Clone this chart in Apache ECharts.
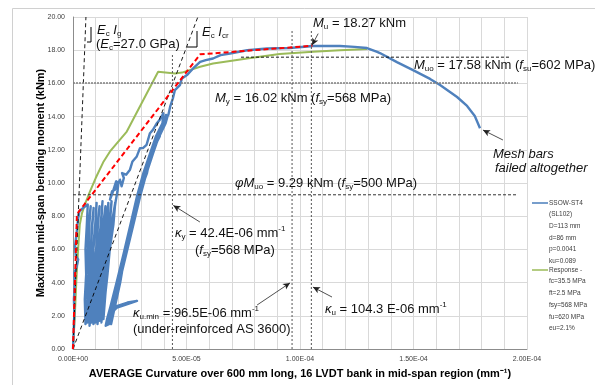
<!DOCTYPE html>
<html><head><meta charset="utf-8">
<script src="https://cdn.jsdelivr.net/npm/echarts@6/dist/echarts.min.js"></script>
<style>html,body{margin:0;padding:0;background:#fff}#c{width:595px;height:385px}</style>
</head><body><div id="c"></div>
<script>
// ---- data (curvature in 1e-6 mm^-1, moment in kNm) ----
const xTickLabels = ['0.00E+00', '5.00E-05', '1.00E-04', '1.50E-04', '2.00E-04'];
const yTickLabels = ['0.00','2.00','4.00','6.00','8.00','10.00','12.00','14.00','16.00','18.00','20.00'];

const blueInitial = [[0,0],[0.3,1.0],[0.6,2.2],[0.4,3.0],[0.9,4.0],[0.6,4.6],[1.5,4.9],[2.3,5.4],[1.2,5.6],[0.9,6.2],[1.6,7.0],[2.2,7.8],[2.8,8.3],[4.5,8.5],[6.5,8.7]];
const blueBand1 = [
  [6.1,7.5],[5.5,6.0],[5.8,4.5],[5.2,3.0],[5.5,1.5],[6.3,3.0],[6.0,4.5],[6.6,6.0],[6.9,7.5],[7.8,8.6],
  [7.2,7.5],[6.8,6.0],[7.1,4.5],[6.3,3.0],[6.4,1.6],[7.3,3.0],[7.4,4.5],[7.8,6.0],[8.4,7.5],[9.1,8.5],
  [8.5,7.4],[7.8,6.0],[8.0,4.5],[7.2,3.0],[7.3,1.4],[8.1,3.0],[8.5,4.5],[8.8,6.0],[9.8,7.5],[10.4,8.8],
  [9.9,7.5],[9.0,6.0],[9.2,4.5],[8.2,3.0],[8.2,1.6],[9.2,3.0],[9.4,4.5],[10.2,6.0],[10.8,7.5],[11.7,8.6],
  [11.0,7.5],[10.4,6.0],[10.0,4.5],[9.4,3.0],[9.0,1.5],[9.9,3.0],[10.6,4.5],[11.2,6.0],[12.2,7.5],[13.0,8.9],
  [12.4,7.5],[11.4,6.0],[11.2,4.5],[10.2,3.0],[9.9,1.6],[10.9,3.0],[11.4,4.5],[12.4,6.0],[13.3,7.5],[14.3,8.6],
  [13.8,7.5],[12.6,6.0],[12.3,4.5],[11.1,3.0],[10.8,1.5],[11.8,3.0],[12.4,4.5],[13.6,6.0],[14.4,7.5],[15.6,8.8],
  [15.0,7.5],[13.8,6.0],[13.2,4.5],[12.2,3.0],[11.6,1.7],[12.7,3.0],[13.6,4.5],[14.6,6.0],[15.8,7.5],[17.0,8.9],
  [16.2,7.5],[15.0,6.0],[14.2,4.5],[13.0,3.0],[12.5,1.6],[13.6,3.0],[14.4,4.5],[15.8,6.0],[17.0,7.5],[18.6,8.8],
  [17.8,7.5],[16.2,6.0],[15.2,4.5],[14.0,3.0],[13.4,1.8],[14.2,3.2],[15.2,4.8],[16.4,6.4],[17.6,7.8],[18.8,8.9],[19.6,9.5],[20.0,10.0],[19.0,10.1],[17.4,9.4],[16.3,9.0]
];
const blueRise = [[17.2,9.5],[18.5,9.6],[19.6,9.9],[20.7,10.2],[21.4,9.8],[22.4,10.3],[21.6,10.6],[22.2,10.6],[23.4,10.5],[25.1,10.8],[26.2,11.3],[28.1,11.6],[29.5,12.1],[30.8,12.1],[32.4,12.3],[33.9,13.0],[35.2,13.2],[36.9,13.6],[38.2,13.8],[39.8,14.2]];
const blueBand2 = [
  [39.4,13.6],[36.5,12.8],[34.0,11.8],[31.0,10.6],[28.2,9.2],[25.5,7.6],[22.4,5.8],[19.2,4.0],[16.6,2.6],[15.0,1.8],[14.4,1.4],
  [15.8,1.5],[17.9,2.6],[20.4,4.0],[23.6,5.8],[26.8,7.6],[29.6,9.2],[32.4,10.6],[35.3,11.8],[37.8,12.8],[39.7,13.6],[41.0,14.1],
  [40.2,13.7],[37.4,12.8],[34.2,11.8],[31.9,10.6],[28.6,9.2],[26.4,7.6],[22.6,5.8],[20.2,4.0],[16.8,2.6],[15.6,1.6],[17.2,2.2],
  [19.4,2.5],[24.0,2.7],[28.2,2.9],[24.0,2.8],[19.6,2.6],
  [18.6,2.6],[20.0,4.0],[23.4,5.8],[25.8,7.6],[29.4,9.2],[31.4,10.6],[34.8,11.8],[37.0,12.8],[40.2,13.7],[41.6,14.0],
  [40.8,13.6],[38.0,12.8],[35.0,11.8],[32.2,10.6],[29.2,9.2],[26.0,7.6],[23.2,5.8],[19.8,4.0],[17.6,2.6],[16.0,1.7],[16.8,1.5],
  [18.2,2.4],[20.8,4.0],[23.0,5.8],[26.6,7.6],[28.8,9.2],[32.6,10.6],[34.4,11.8],[38.2,12.8],[39.6,13.6],[42.0,14.1]
];
const blueEnvelope = [[42.8,14.6],[44.0,15.1],[44.9,15.6],[47.1,15.9],[48.0,16.3],[50.2,16.5],[52.9,16.9],[56.0,17.3],[58.5,17.4],[61.7,17.5],[65.0,17.7],[69.2,17.8],[76.7,18.0],[85.5,18.1],[95.6,18.13],[105.7,18.25],[117.6,18.25],[124.0,18.2],[129.5,18.13],[134.0,17.9],[135.2,17.83],[142.7,17.28],[149.8,16.8],[157.3,16.27],[161.7,15.9],[169.2,15.18],[173.6,14.64],[177.0,14.04],[179.3,13.3]];
const greenCurve = [[0,0],[0.8,2.0],[1.5,4.2],[2.3,6.1],[3.0,7.5],[4.0,8.2],[5.5,8.8],[7.5,9.5],[10.0,10.3],[13.5,11.3],[16.3,11.9],[23.7,13.1],[37.5,16.7],[45.0,16.6],[48.0,16.65],[56.0,17.0],[61.7,17.2],[76.7,17.5],[91.0,17.77],[105.7,17.9],[117.6,18.0],[129.5,18.07]];
const redCurve = [[0,0],[1.7,8.0],[2.4,8.25],[56.0,17.75],[105.5,18.27]];

const refEcIg = [[0,0],[5.7,20]];
const refEcIcr = [[0,0],[55,20]];
const refMy = [[0,16.02],[196,16.02]];
const refMuo = [[74,17.58],[192.5,17.58]];
const refPhiMuo = [[0,9.29],[196,9.29]];
const refKy = [[43.8,0],[43.8,17.8]];
const refKumin = [[96.5,0],[96.5,19.2]];
const refKu = [[105,0],[105,19.2]];

const arrowMu = [[108,19.0],[105.3,18.3]];
const arrowKy = [[55.9,7.65],[44.2,8.65]];
const arrowKumin = [[81.1,2.65],[95.6,3.98]];
const arrowKu = [[114.1,3.13],[105.7,3.73]];
const arrowMesh = [[189.4,12.59],[180.6,13.19]];

const legendBlue = ['SSOW-ST4','(SL102)','D=113 mm','d=86 mm','p=0.0041','ku=0.089'];
const legendGreen = ['Response -','fc=35.5 MPa','ft=2.5 MPa','fsy=568 MPa','fu=620 MPa','eu=2.1%'];

const blueCurve = blueInitial.concat(blueBand1, blueRise, blueBand2, blueEnvelope);

// ---- chart ----
const F = 'Liberation Sans';
const chart = echarts.init(document.getElementById('c'), null, {renderer:'canvas'});
const rich = {
  i: {fontStyle:'italic', fontSize:13, fontFamily:F, lineHeight:16, fill:'#111'},
  s: {fontSize:8, fontFamily:F, lineHeight:7, verticalAlign:'bottom', fill:'#111'},
  p: {fontSize:8, fontFamily:F, lineHeight:7, verticalAlign:'top', fill:'#111'}
};
function txt(x, y, text) {
  return {type:'text', x:x, y:y, silent:true, z:50,
    style:{text:text, rich:rich, fontSize:13, fontFamily:F, lineHeight:16, fill:'#111', verticalAlign:'middle', align:'left'}};
}
function ref(data, color, width, type) {
  return {type:'line', data:data, symbol:'none', silent:true, z:4,
    lineStyle:{color:color, width:width, type:type}};
}
function arrow(pts) {
  return [{coord:pts[0]},{coord:pts[1]}];
}

const graphics = [
  {type:'rect', shape:{x:12.5,y:8.5,width:640,height:420}, style:{fill:'none', stroke:'#d0d0d0', lineWidth:1}, silent:true},
  {type:'polyline', shape:{points:[[91,27],[91,42],[87,42]]}, style:{stroke:'#000', lineWidth:1, fill:'none'}, z:50, silent:true},
  {type:'polyline', shape:{points:[[197,31],[197,47],[187,47]]}, style:{stroke:'#000', lineWidth:1, fill:'none'}, z:50, silent:true},
  txt(97, 30, '{i|E}{s|c} {i|I}{s|g}'),
  txt(96, 44, '({i|E}{s|c}=27.0 GPa)'),
  txt(202, 32, '{i|E}{s|c} {i|I}{s|cr}'),
  txt(313, 23, '{i|M}{s|u} = 18.27 kNm'),
  txt(414, 65, '{i|M}{s|uo} = 17.58 kNm ({i|f}{s|su}=602 MPa)'),
  txt(215, 98, '{i|M}{s|y} = 16.02 kNm ({i|f}{s|sy}=568 MPa)'),
  txt(235, 183, '{i|φM}{s|uo} = 9.29 kNm ({i|f}{s|sy}=500 MPa)'),
  txt(175, 233, '{i|κ}{s|y} = 42.4E-06 mm{p|-1}'),
  txt(195, 250, '({i|f}{s|sy}=568 MPa)'),
  txt(133, 313, '{i|κ}{s|u.min} = 96.5E-06 mm{p|-1}'),
  txt(133, 329, '(under-reinforced AS 3600)'),
  txt(325, 309, '{i|κ}{s|u} = 104.3 E-06 mm{p|-1}'),
  txt(493, 154, '{i|Mesh bars}'),
  txt(495, 168, '{i|failed altogether}'),
  {type:'line', shape:{x1:532,y1:203,x2:548,y2:203}, style:{stroke:'#4a7ebb', lineWidth:1.5}, silent:true},
  {type:'line', shape:{x1:532,y1:270,x2:548,y2:270}, style:{stroke:'#9bbb59', lineWidth:1.5}, silent:true}
];
legendBlue.forEach((t, k) => graphics.push({type:'text', x:549, y:203 + k*11.6, silent:true,
  style:{text:t, fontSize:6.5, fontFamily:F, fill:'#404040', verticalAlign:'middle'}}));
legendGreen.forEach((t, k) => graphics.push({type:'text', x:549, y:270 + k*11.7, silent:true,
  style:{text:t, fontSize:6.5, fontFamily:F, fill:'#404040', verticalAlign:'middle'}}));

chart.setOption({
  animation:false,
  backgroundColor:'#fff',
  grid:{left:73, right:68, top:17, bottom:36, containLabel:false},
  xAxis:{type:'value', min:0, max:200, interval:50,
    axisLine:{show:true, onZero:false, lineStyle:{color:'#8c8c8c', width:1}},
    axisTick:{show:false},
    axisLabel:{fontSize:7, fontFamily:F, color:'#404040', margin:7, formatter:(v)=>xTickLabels[Math.round(v/50)]},
    splitLine:{show:true, lineStyle:{color:'#d9d9d9', width:1}},
    minorTick:{show:false, splitNumber:5},
    minorSplitLine:{show:true, lineStyle:{color:'#d9d9d9', width:1}},
    name:'AVERAGE Curvature over 600 mm long, 16 LVDT bank in mid-span region (mm⁻¹)',
    nameLocation:'middle', nameGap:19, nameMoveOverlap:false,
    nameTextStyle:{fontWeight:'bold', fontSize:11, fontFamily:F, color:'#000'}},
  yAxis:{type:'value', min:0, max:20, interval:2,
    axisLine:{show:true, lineStyle:{color:'#8c8c8c', width:1}},
    axisTick:{show:false},
    axisLabel:{fontSize:7, fontFamily:F, color:'#404040', margin:8, formatter:(v)=>yTickLabels[Math.round(v/2)]},
    splitLine:{show:true, lineStyle:{color:'#d9d9d9', width:1}},
    name:'Maximum mid-span bending moment (kNm)',
    nameLocation:'middle', nameGap:27, nameRotate:90, nameMoveOverlap:false,
    nameTextStyle:{fontWeight:'bold', fontSize:11, fontFamily:F, color:'#000'}},
  series:[
    {name:'Response', type:'line', data:greenCurve, symbol:'none', z:2, lineStyle:{color:'#9bbb59', width:2}},
    {name:'SSOW-ST4', type:'line', data:blueCurve, symbol:'none', z:3, lineStyle:{color:'#4f81bd', width:2.4, join:'round'}},
    {name:'Model', type:'line', data:redCurve, symbol:'none', z:5, lineStyle:{color:'#ff0000', width:2, type:[5,3]}},
    ref(refEcIg, '#000', 0.9, [4,3]),
    ref(refEcIcr, '#000', 0.9, [4,3]),
    ref(refMy, '#808080', 1.6, [2,1]),
    ref(refMuo, '#000', 0.9, [3,2]),
    ref(refPhiMuo, '#333', 1, [3,2]),
    ref(refKy, '#555', 1, [2,2]),
    ref(refKumin, '#555', 1, [2,2]),
    ref(refKu, '#555', 1, [2,2]),
    {type:'line', data:[], silent:true, z:6,
      markLine:{silent:true, animation:false, symbol:['none','arrow'], symbolSize:[5,7],
        label:{show:false}, lineStyle:{color:'#222', width:0.8, type:'solid'},
        data:[arrow(arrowMu), arrow(arrowKy), arrow(arrowKumin), arrow(arrowKu), arrow(arrowMesh)]}}
  ],
  graphic:graphics
});
</script></body></html>
